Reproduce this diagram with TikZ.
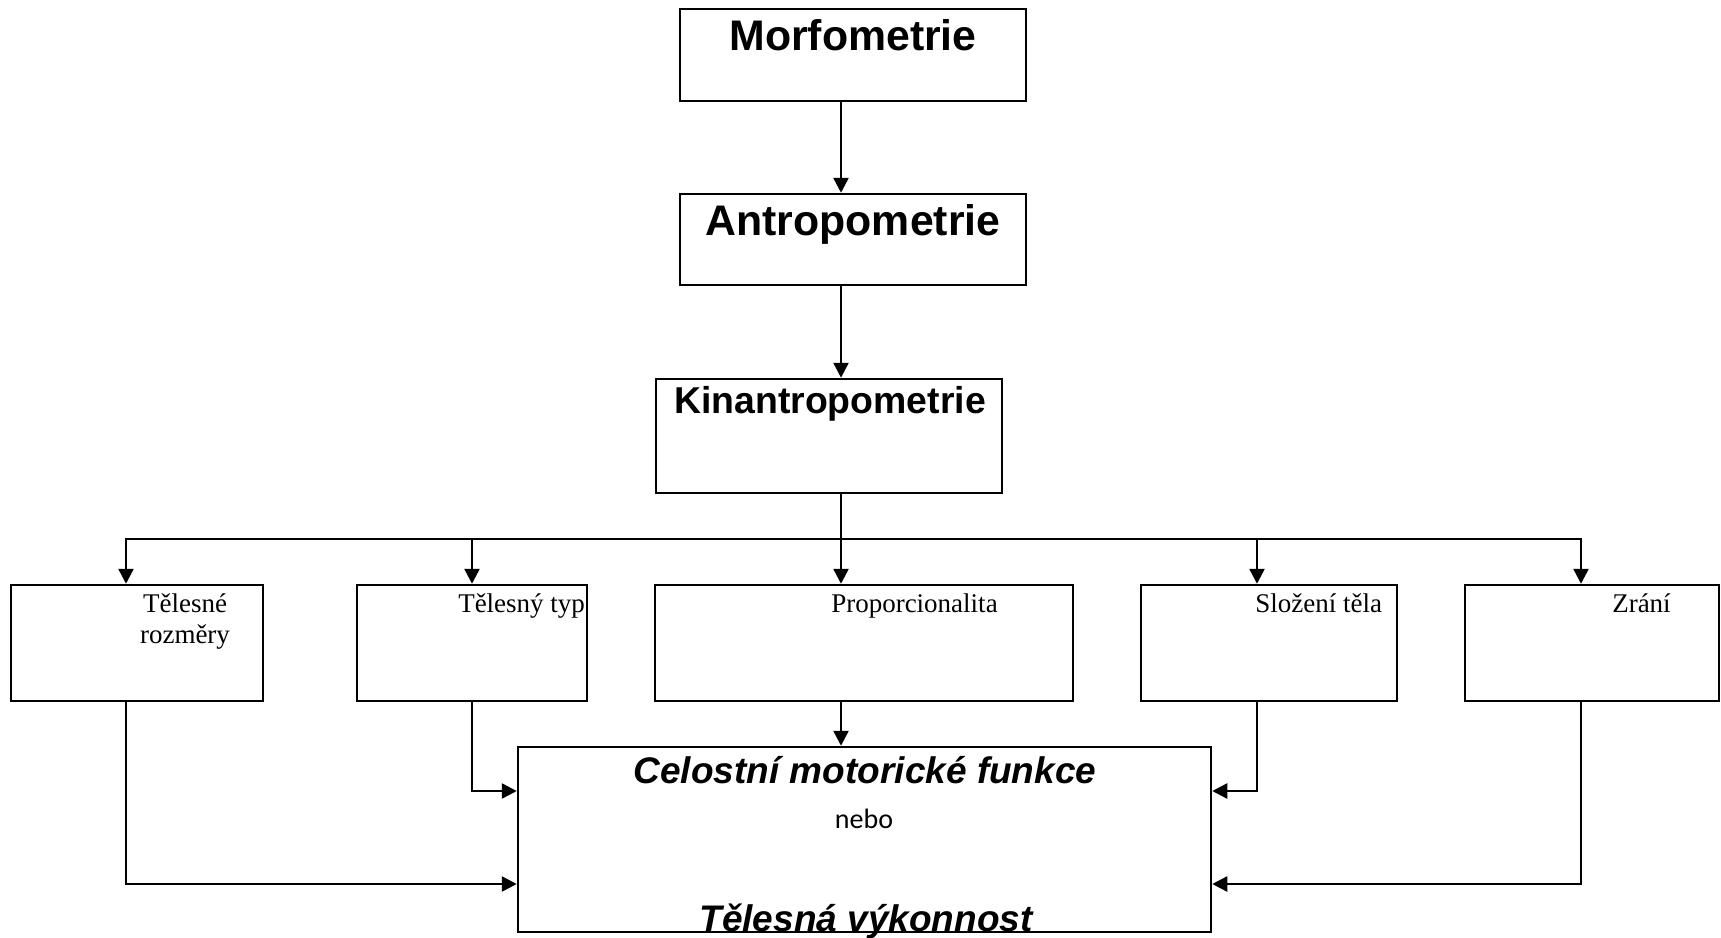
\documentclass[tikz,border=0pt]{standalone}
\usepackage{fontspec}
\setmainfont{Liberation Serif}
\newfontfamily\headfont{Liberation Sans}
\newfontfamily\nebofont{Carlito}
\usetikzlibrary{arrows.meta}
\begin{document}
\begin{tikzpicture}[x=1pt,y=-1pt,line width=2.5pt,
  box/.style={draw,inner sep=0pt},
  txt/.style={inner sep=0pt,anchor=base},
  arr/.style={-{Triangle[length=15pt,width=15pt]}}]
\useasboundingbox (0,0) rectangle (1721,937);
% upper chain
\node[box,minimum width=346pt,minimum height=92pt] (morf) at (853,55) {};
\node[box,minimum width=346pt,minimum height=91pt] (anthro) at (853,239.5) {};
\node[box,minimum width=346pt,minimum height=114pt] (kin) at (829,436) {};
\node[txt,font=\headfont\bfseries\fontsize{42.8}{48}\selectfont] (morft) at (853,50) {Morfometrie};
\node[txt,font=\headfont\bfseries\fontsize{42.8}{48}\selectfont] (anthrot) at (853,235) {Antropometrie};
\node[txt,font=\headfont\bfseries\fontsize{37.4}{42}\selectfont] (kint) at (830,413) {Kinantropometrie};
% row of five
\node[box,minimum width=252pt,minimum height=116pt] (b1) at (137,643) {};
\node[box,minimum width=230pt,minimum height=116pt] (b2) at (472,643) {};
\node[box,minimum width=418pt,minimum height=116pt] (b3) at (864,643) {};
\node[box,minimum width=256pt,minimum height=116pt] (b4) at (1269,643) {};
\node[box,minimum width=254pt,minimum height=116pt] (b5) at (1592,643) {};
\node[txt,font=\fontsize{27}{31}\selectfont,align=center] (b1t) at (185,643) {Tělesné\\rozměry};
\node[txt,font=\fontsize{27}{31}\selectfont,anchor=base west] (b2t) at (457,612) {Tělesný typ};
\node[txt,font=\fontsize{27}{31}\selectfont,anchor=base west] (b3t) at (830,612) {Proporcionalita};
\node[txt,font=\fontsize{27}{31}\selectfont,anchor=base west] (b4t) at (1254,612) {Složení těla};
\node[txt,font=\fontsize{27}{31}\selectfont,anchor=base west] (b5t) at (1611,612) {Zrání};
% result
\node[box,minimum width=693pt,minimum height=185pt] (res) at (864.5,839.5) {};
\node[txt,font=\headfont\bfseries\itshape\fontsize{37}{42}\selectfont] (rest1) at (865,783) {Celostní motorické funkce};
\node[txt,font=\nebofont\fontsize{28}{32}\selectfont] (rest2) at (864,828) {nebo};
\node[txt,font=\headfont\bfseries\itshape\fontsize{37}{42}\selectfont] (rest3) at (866,931) {Tělesná výkonnost};
% connectors
\coordinate (spine) at (841,539);
\draw[arr] (morf.south -| spine) -- (anthro.north -| spine);
\draw[arr] (anthro.south -| spine) -- (kin.north -| spine);
\draw (kin.south -| spine) -- (spine);
\foreach \i/\x in {1/126,2/472,3/841,4/1257,5/1581}
  \coordinate (d\i) at (\x,539);
\draw[line cap=rect] (d1) -- (d5);
\foreach \i in {1,...,5}
  \draw[arr] (d\i) -- (d\i |- b\i.north);
\coordinate (hi) at (0,791);
\coordinate (lo) at (0,884);
\draw[arr] (d1 |- b1.south) |- (lo -| res.west);
\draw[arr] (d2 |- b2.south) |- (hi -| res.west);
\draw[arr] (d3 |- b3.south) -- (d3 |- res.north);
\draw[arr] (d4 |- b4.south) |- (hi -| res.east);
\draw[arr] (d5 |- b5.south) |- (lo -| res.east);
\end{tikzpicture}
\end{document}
